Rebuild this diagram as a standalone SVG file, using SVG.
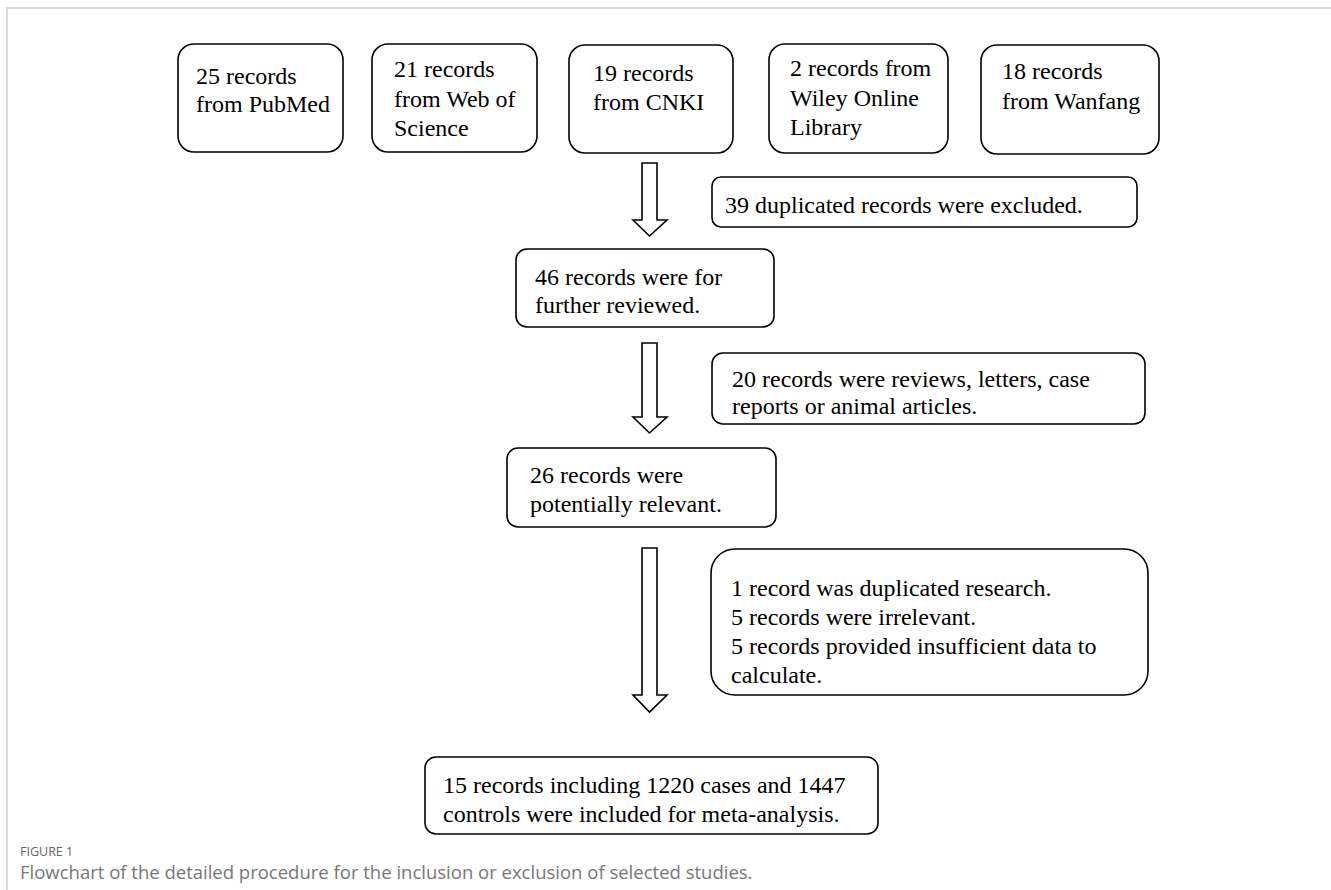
<svg xmlns="http://www.w3.org/2000/svg" width="1331" height="890" viewBox="0 0 1331 890">
<style>
.box{fill:#fff;stroke:#000;stroke-width:1.6}
.t{font-family:"Liberation Serif","Times New Roman",serif;font-size:24px;fill:#000}
.arr{fill:#fff;stroke:#000;stroke-width:1.6;stroke-linejoin:miter}
.frame{stroke:#cfcfcf;stroke-width:1.5;fill:none}
.cap1{font-family:"Open Sans","Liberation Sans",sans-serif;font-size:12.5px;fill:#666}
.cap2{font-family:"Open Sans","Liberation Sans",sans-serif;font-size:18.5px;fill:#777}
</style>
<rect x="0" y="0" width="1331" height="890" fill="#fff"/>
<path class="frame" d="M7,890 V8 H1331"/>

<g id="pubmed">
<rect class="box" x="178" y="44" width="165" height="108" rx="16"/>
<text class="t" x="196" y="84">25 records</text>
<text class="t" x="196" y="112">from PubMed</text>
</g>
<g id="wos">
<rect class="box" x="372" y="44" width="165" height="108" rx="16"/>
<text class="t" x="394" y="77">21 records</text>
<text class="t" x="394" y="107">from Web of</text>
<text class="t" x="394" y="136">Science</text>
</g>
<g id="cnki">
<rect class="box" x="569" y="45" width="164" height="108" rx="16"/>
<text class="t" x="593" y="81">19 records</text>
<text class="t" x="593" y="110">from CNKI</text>
</g>
<g id="wiley">
<rect class="box" x="769" y="44" width="179" height="109" rx="16"/>
<text class="t" x="790" y="76">2 records from</text>
<text class="t" x="790" y="106">Wiley Online</text>
<text class="t" x="790" y="135">Library</text>
</g>
<g id="wanfang">
<rect class="box" x="981" y="45" width="178" height="109" rx="16"/>
<text class="t" x="1002" y="79">18 records</text>
<text class="t" x="1002" y="109">from Wanfang</text>
</g>

<g id="dup">
<rect class="box" x="712" y="177" width="425" height="50" rx="9"/>
<text class="t" x="725" y="213">39 duplicated records were excluded.</text>
</g>
<g id="n46">
<rect class="box" x="516" y="249" width="258" height="78" rx="11"/>
<text class="t" x="535" y="285">46 records were for</text>
<text class="t" x="535" y="313">further reviewed.</text>
</g>
<g id="rev">
<rect class="box" x="712" y="353" width="433" height="71" rx="11"/>
<text class="t" x="732" y="387">20 records were reviews, letters, case</text>
<text class="t" x="732" y="414">reports or animal articles.</text>
</g>
<g id="n26">
<rect class="box" x="507" y="448" width="269" height="79" rx="11"/>
<text class="t" x="530" y="483">26 records were</text>
<text class="t" x="530" y="512">potentially relevant.</text>
</g>
<g id="excl">
<rect class="box" x="711" y="549" width="437" height="146" rx="24"/>
<text class="t" x="731" y="596">1 record was duplicated research.</text>
<text class="t" x="731" y="625">5 records were irrelevant.</text>
<text class="t" x="731" y="654">5 records provided insufficient data to</text>
<text class="t" x="731" y="683">calculate.</text>
</g>
<g id="final">
<rect class="box" x="425" y="757" width="453" height="77" rx="11"/>
<text class="t" x="443" y="793">15 records including 1220 cases and 1447</text>
<text class="t" x="443" y="822">controls were included for meta-analysis.</text>
</g>

<g id="connectors">
<polygon class="arr" points="642,163 657,163 657,220 667,220 649.5,236 633,220 642,220"/>
<polygon class="arr" points="642,343 657,343 657,417 667,417 649.5,433 633,417 642,417"/>
<polygon class="arr" points="642,548 657,548 657,695 667,695 649.5,712 633,695 642,695"/>
</g>

<g id="caption">
<text class="cap1" x="20" y="856">FIGURE 1</text>
<text class="cap2" x="20" y="879">Flowchart of the detailed procedure for the inclusion or exclusion of selected studies.</text>
</g>
</svg>
